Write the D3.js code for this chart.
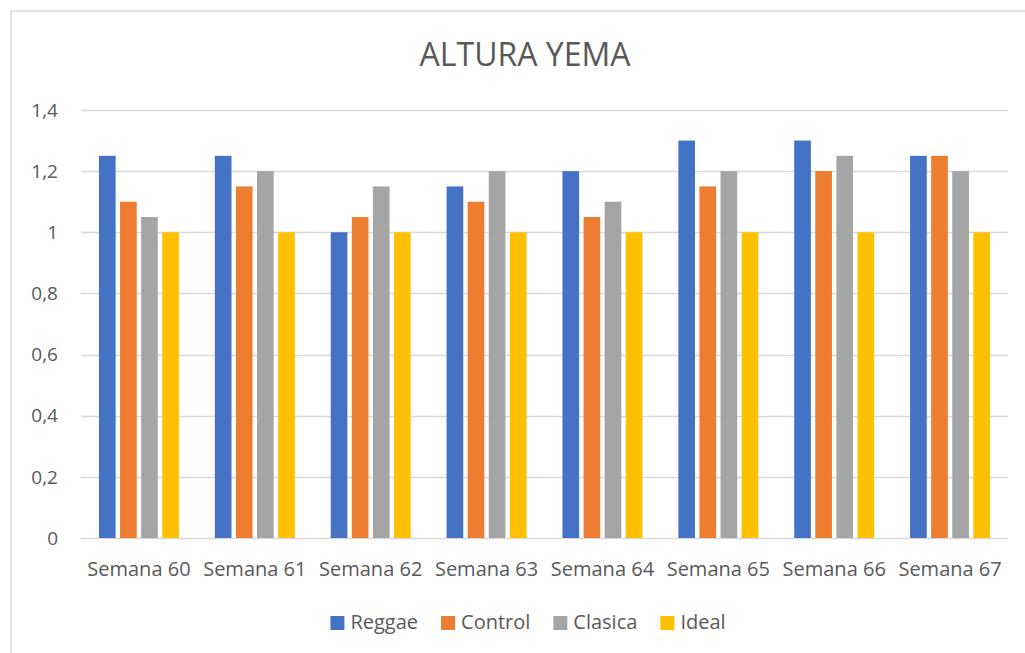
<!DOCTYPE html>
<html>
<head>
<meta charset="utf-8">
<script src="https://cdn.jsdelivr.net/npm/d3@7"></script>
<style>
  body { margin: 0; background: #fff; }
  svg { display: block; font-family: "Open Sans", sans-serif; }
</style>
</head>
<body>
<div id="chart"></div>
<script>
const title = "ALTURA YEMA";
const categories = ["Semana 60", "Semana 61", "Semana 62", "Semana 63", "Semana 64", "Semana 65", "Semana 66", "Semana 67"];
const seriesNames = ["Reggae", "Control", "Clasica", "Ideal"];
const reggae = [1.25, 1.25, 1.0, 1.15, 1.2, 1.3, 1.3, 1.25];
const control = [1.1, 1.15, 1.05, 1.1, 1.05, 1.15, 1.2, 1.25];
const clasica = [1.05, 1.2, 1.15, 1.2, 1.1, 1.2, 1.25, 1.2];
const ideal = [1.0, 1.0, 1.0, 1.0, 1.0, 1.0, 1.0, 1.0];
const yTicks = [0, 0.2, 0.4, 0.6, 0.8, 1, 1.2, 1.4];

const colors = ["#4472C4", "#ED7D31", "#A5A5A5", "#FFC000"];
const seriesValues = [reggae, control, clasica, ideal];

const width = 1025;
const height = 653;
const textColor = "#595959";
const gridColor = "#D9D9D9";

const svg = d3.select("#chart")
  .append("svg")
  .attr("width", width)
  .attr("height", height);

// chart frame (right and bottom edges run past the window)
svg.append("rect")
  .attr("x", 11)
  .attr("y", 11)
  .attr("width", 1040)
  .attr("height", 660)
  .attr("fill", "#fff")
  .attr("stroke", gridColor)
  .attr("stroke-width", 1.5);

svg.append("text")
  .attr("x", 525)
  .attr("y", 66)
  .attr("text-anchor", "middle")
  .attr("fill", textColor)
  .style("font-size", "32px")
  .text(title);

const x0 = d3.scaleBand()
  .domain(categories)
  .range([81, 1008])
  .paddingInner(0.31)
  .paddingOuter(0.155);

const x1 = d3.scaleBand()
  .domain(seriesNames)
  .range([0, x0.bandwidth()])
  .paddingInner(0.21);

const y = d3.scaleLinear()
  .domain([0, 1.4])
  .range([538, 110]);

// gridlines
svg.append("g")
  .selectAll("line")
  .data(yTicks)
  .join("line")
  .attr("x1", 81)
  .attr("x2", 1008)
  .attr("y1", (d) => Math.round(y(d)) + 0.5)
  .attr("y2", (d) => Math.round(y(d)) + 0.5)
  .attr("stroke", gridColor)
  .attr("stroke-width", 1.5);

// y axis labels
svg.append("g")
  .selectAll("text")
  .data(yTicks)
  .join("text")
  .attr("x", 58)
  .attr("y", (d) => y(d))
  .attr("dy", "0.35em")
  .attr("text-anchor", "end")
  .attr("fill", textColor)
  .style("font-size", "19px")
  .text((d) => String(d).replace(".", ","));

// bars
const groups = svg.append("g")
  .selectAll("g")
  .data(categories)
  .join("g")
  .attr("transform", (d) => `translate(${x0(d)},0)`);

groups.selectAll("rect")
  .data((d, i) => seriesNames.map((name, s) => ({ name, value: seriesValues[s][i], color: colors[s] })))
  .join("rect")
  .attr("x", (d) => x1(d.name))
  .attr("y", (d) => y(d.value))
  .attr("width", x1.bandwidth())
  .attr("height", (d) => y(0) - y(d.value))
  .attr("fill", (d) => d.color);

// x axis labels
svg.append("g")
  .selectAll("text")
  .data(categories)
  .join("text")
  .attr("x", (d) => x0(d) + x0.bandwidth() / 2)
  .attr("y", 576)
  .attr("text-anchor", "middle")
  .attr("fill", textColor)
  .style("font-size", "20px")
  .text((d) => d);

// legend
const legend = svg.append("g");
let lx = 0;
seriesNames.forEach((name, i) => {
  const item = legend.append("g").attr("transform", `translate(${lx},0)`);
  item.append("rect")
    .attr("x", 0)
    .attr("y", 616)
    .attr("width", 14)
    .attr("height", 14)
    .attr("fill", colors[i]);
  const t = item.append("text")
    .attr("x", 20)
    .attr("y", 629)
    .attr("fill", textColor)
    .style("font-size", "20px")
    .text(name);
  lx += 20 + t.node().getComputedTextLength() + 23;
});
const legendWidth = lx - 23;
legend.attr("transform", `translate(${528 - legendWidth / 2},0)`);
</script>
</body>
</html>
